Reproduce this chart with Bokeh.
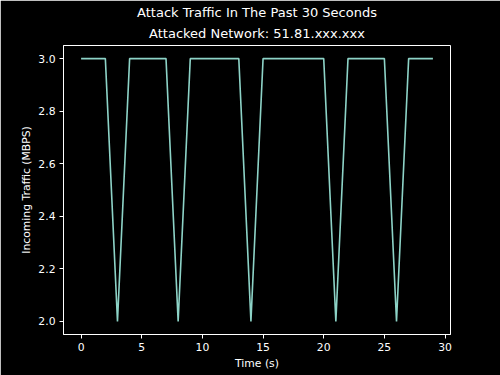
from bokeh.plotting import figure
from bokeh.models import Title, FixedTicker, NumeralTickFormatter, Range1d
from bokeh.embed import file_html
from bokeh.resources import INLINE

seconds = list(range(30))
traffic = [3.0, 3.0, 3.0, 2.0, 3.0, 3.0, 3.0, 3.0, 2.0, 3.0,
           3.0, 3.0, 3.0, 3.0, 2.0, 3.0, 3.0, 3.0, 3.0, 3.0,
           3.0, 2.0, 3.0, 3.0, 3.0, 3.0, 2.0, 3.0, 3.0, 3.0]
x_ticks = [0, 5, 10, 15, 20, 25, 30]
y_ticks = [2.0, 2.2, 2.4, 2.6, 2.8, 3.0]

FONT = "DejaVu Sans"
FG = "white"

p = figure(width=500, height=375, output_backend="svg", toolbar_location=None,
           x_range=Range1d(-1.45, 30.45), y_range=Range1d(1.95, 3.05),
           background_fill_color="black", border_fill_color="black",
           min_border_left=63, min_border_right=50, min_border_top=45,
           min_border_bottom=41)
p.title = None
p.add_layout(Title(text="Attacked Network: 51.81.xxx.xxx", align="center",
                   text_color=FG, text_font=FONT, text_font_size="13px",
                   text_font_style="normal", standoff=9), "above")
p.add_layout(Title(text="Attack Traffic In The Past 30 Seconds", align="center",
                   text_color=FG, text_font=FONT, text_font_size="13px",
                   text_font_style="normal", standoff=0), "above")

p.grid.visible = False
p.outline_line_color = FG
p.outline_line_width = 1

p.line(seconds, traffic, line_color="#8dd3c7", line_width=1.6)

for ax in (p.xaxis[0], p.yaxis[0]):
    ax.axis_line_color = FG
    ax.major_tick_line_color = FG
    ax.minor_tick_line_color = None
    ax.major_tick_out = 4
    ax.major_tick_in = 0
    ax.major_label_text_color = FG
    ax.major_label_text_font = FONT
    ax.major_label_text_font_size = "10.8px"
    ax.axis_label_text_color = FG
    ax.axis_label_text_font = FONT
    ax.axis_label_text_font_size = "10.8px"
    ax.axis_label_text_font_style = "normal"

p.xaxis.ticker = FixedTicker(ticks=x_ticks)
p.yaxis.ticker = FixedTicker(ticks=y_ticks)
p.yaxis.formatter = NumeralTickFormatter(format="0.0")
p.xaxis.axis_label = "Time (s)"
p.yaxis.axis_label = "Incoming Traffic (MBPS)"
p.xaxis.axis_label_standoff = 3
p.yaxis.axis_label_standoff = 2
p.xaxis.major_label_standoff = 4
p.yaxis.major_label_standoff = 4

open("out.html", "w").write(file_html(p, INLINE))
